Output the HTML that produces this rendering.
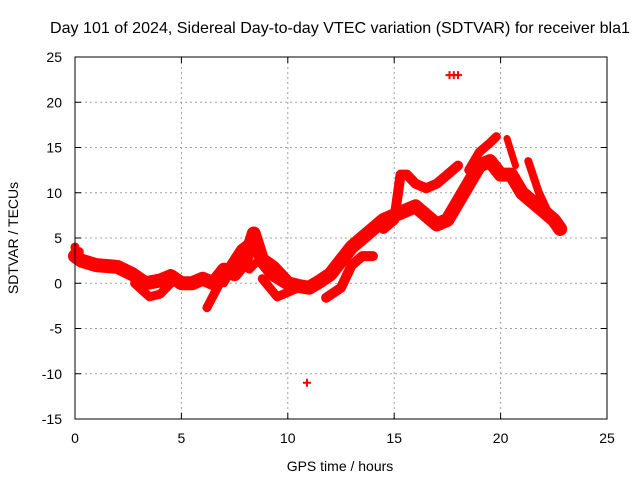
<!DOCTYPE html>
<html><head><meta charset="utf-8"><style>
body{margin:0;background:#fff}
svg text{font-family:"Liberation Sans",sans-serif;font-size:14px;fill:#000}
</style></head><body>
<svg id="chart" width="640" height="480" viewBox="0 0 640 480">
<text x="340" y="33" text-anchor="middle" style="font-size:16px" textLength="580" lengthAdjust="spacingAndGlyphs">Day 101 of 2024, Sidereal Day-to-day VTEC variation (SDTVAR) for receiver bla1</text>
<g id="grid"></g>
<g id="marks"></g>
<rect x="75" y="57" width="532" height="362" fill="none" stroke="#000"/>
<g id="ticks"></g>
<text x="340" y="471" text-anchor="middle">GPS time / hours</text>
<text transform="translate(18,238) rotate(-90)" text-anchor="middle">SDTVAR / TECUs</text>
</svg>
<script>
const xTicks=[0,5,10,15,20,25];
const yTicks=[-15,-10,-5,0,5,10,15,20,25];
const mainX=[0,0.3,1,2,2.7,3.3,4,4.5,5,5.5,6,6.5,7,7.5,8,8.4,8.8,9.3,10,10.5,11,11.5,12,12.5,13,13.5,14,14.5,15,16,16.5,17,17.5,18,18.5,19,19.5,20,20.5,21,21.5,22,22.5,22.8];
const mainY=[3,2.5,2,1.8,1,0,0.3,0.8,0,0,0.5,0,1.5,1,2.5,5.5,2.5,1,0,-0.3,-0.5,0.2,1,2.5,4,5,6,7,7.5,8.5,7.5,6.5,7,9,11,13,13.5,12,12,10,9,8,7,6];
const startX=[0,0.1,0.2];const startY=[4,2.5,3.5];
const midX=[7,7.6,8.2,8.8,9.4,10];const midY=[0,2.5,1.5,3,2,0.5];
const low1X=[2.8,3.5,4,4.5];const low1Y=[0,-1.5,-1.2,0];
const low2X=[6.2,6.8,7.3,7.8,8.2];const low2Y=[-2.7,0,2,3.8,4.5];
const low3X=[8.8,9.5,10,10.5];const low3Y=[0.5,-1.5,-1,-0.5];
const low4X=[11.8,12.5,13,13.5,14];const low4Y=[-1.6,-0.5,2,3,3];
const upX=[14.5,15,15.3,15.6,16,16.5,17,17.5,18];const upY=[6,7,12,12,11,10.5,11,12,13];
const up2X=[18.5,19,19.5,19.8];const up2Y=[12.5,14.5,15.5,16.2];
const up3X=[20.3,20.7];const up3Y=[16,13];
const up4X=[21.3,21.8,22.2];const up4Y=[13.5,10,8];
const outX=[17.8,10.9];const outY=[23,-11];
const X=v=>75+v*532/25, Y=v=>57+(25-v)*362/40;
const NS="http://www.w3.org/2000/svg";
const grid=document.getElementById('grid'),ticks=document.getElementById('ticks'),marks=document.getElementById('marks');
function mk(tag,attrs,parent){const e=document.createElementNS(NS,tag);for(const k in attrs)e.setAttribute(k,attrs[k]);parent.appendChild(e);return e;}
xTicks.forEach(t=>{
 if(t>0&&t<25){const g=mk('line',{x1:X(t),x2:X(t),y1:57,y2:419,stroke:'#a0a0a0','stroke-dasharray':'2,3'},grid);
 
 }
 const l=mk('line',{x1:X(t),x2:X(t),y1:419,y2:413,stroke:'#000'},ticks);
 
 
 const l2=mk('line',{x1:X(t),x2:X(t),y1:57,y2:63,stroke:'#000'},ticks);
 
 
 const tx=mk('text',{x:X(t),y:443,'text-anchor':'middle'},ticks);tx.textContent=t;
 
 
});
yTicks.forEach(t=>{
 if(t>-15&&t<25){const g=mk('line',{x1:75,x2:607,y1:Y(t),y2:Y(t),stroke:'#a0a0a0','stroke-dasharray':'2,3'},grid);
 
 }
 const l=mk('line',{x1:75,x2:81,y1:Y(t),y2:Y(t),stroke:'#000'},ticks);
 
 
 const l2=mk('line',{x1:601,x2:607,y1:Y(t),y2:Y(t),stroke:'#000'},ticks);
 
 
 const tx=mk('text',{x:62,y:Y(t)+5,'text-anchor':'end'},ticks);tx.textContent=t;
 
 
});
function series(xs,ys,name,w){
 const pts=xs.map((x,i)=>X(x)+','+Y(ys[i])).join(' ');
 const p=mk('polyline',{points:pts,fill:'none',stroke:'#ff0000','stroke-width':w||12,'stroke-linejoin':'round','stroke-linecap':'round'},marks);
 
 
}
function plus(xs,ys,name){
 xs.forEach((x,i)=>{const p=mk('path',{d:`M${X(x)-4},${Y(ys[i])}h8M${X(x)},${Y(ys[i])-4}v8`,stroke:'#ff0000','stroke-width':2},marks);
 
 });
}
series(startX,startY,'start-band',9);
series(mainX,mainY,'main-band',14);
series(midX,midY,'mid-band',8);
series(low1X,low1Y,'lower-band-1',9);
series(low2X,low2Y,'lower-band-2',9);
series(low3X,low3Y,'lower-band-3',9);
series(low4X,low4Y,'lower-band-4',10);
series(upX,upY,'upper-band-1',10);
series(up2X,up2Y,'upper-band-2',9);
series(up3X,up3Y,'upper-band-3',7);
series(up4X,up4Y,'upper-band-4',8);
plus(outX,outY,'outlier-point');
plus([outX[0]-0.2,outX[0]+0.2],[outY[0],outY[0]],'outlier-point');
</script>
</body></html>
